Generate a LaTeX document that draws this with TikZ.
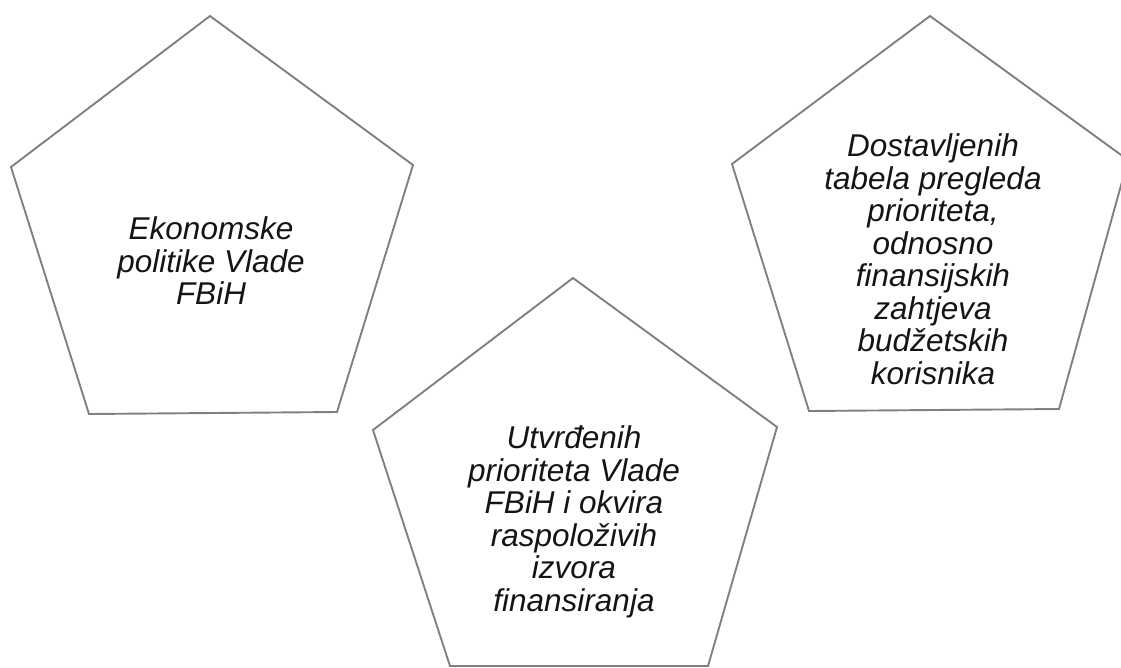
\documentclass[tikz,border=0pt]{standalone}
\usepackage{fontspec}
\setmainfont{Liberation Sans}
\begin{document}
\begin{tikzpicture}[x=1pt,y=-1pt,
  penta/.style={draw=pentagray, line width=1.9pt, line join=miter},
  label/.style={align=center, text=textgray, font=\itshape\fontsize{31.5}{32.5}\selectfont, inner sep=0pt}]
\definecolor{pentagray}{HTML}{808080}
\definecolor{textgray}{HTML}{141414}
\useasboundingbox (0,0) rectangle (1121,667);
% left pentagon
\coordinate (l1) at (210,16);
\coordinate (l2) at (413,165);
\coordinate (l3) at (337,412);
\coordinate (l4) at (89,414);
\coordinate (l5) at (11,167);
\draw[penta] (l1) -- (l2) -- (l3) -- (l4) -- (l5) -- cycle;
% right pentagon
\coordinate (r1) at (930,16);
\coordinate (r2) at (1128,160);
\coordinate (r3) at (1059,409);
\coordinate (r4) at (809,411);
\coordinate (r5) at (732,164);
\draw[penta] (r1) -- (r2) -- (r3) -- (r4) -- (r5) -- cycle;
% middle pentagon
\coordinate (m1) at (573,278);
\coordinate (m2) at (777,427);
\coordinate (m3) at (708,666);
\coordinate (m4) at (450,666);
\coordinate (m5) at (373,430);
\draw[penta] (m1) -- (m2) -- (m3) -- (m4) -- (m5) -- cycle;
% texts
\node[label] (tl) at (211,261) {Ekonomske\\politike Vlade\\FBiH};
\node[label] (tr) at (933,259) {Dostavljenih\\tabela pregleda\\prioriteta,\\odnosno\\finansijskih\\zahtjeva\\budžetskih\\korisnika};
\node[label] (tm) at (574,522) {Utvrđenih\\prioriteta Vlade\\FBiH i okvira\\raspoloživih\\izvora\\finansiranja};
\end{tikzpicture}
\end{document}
